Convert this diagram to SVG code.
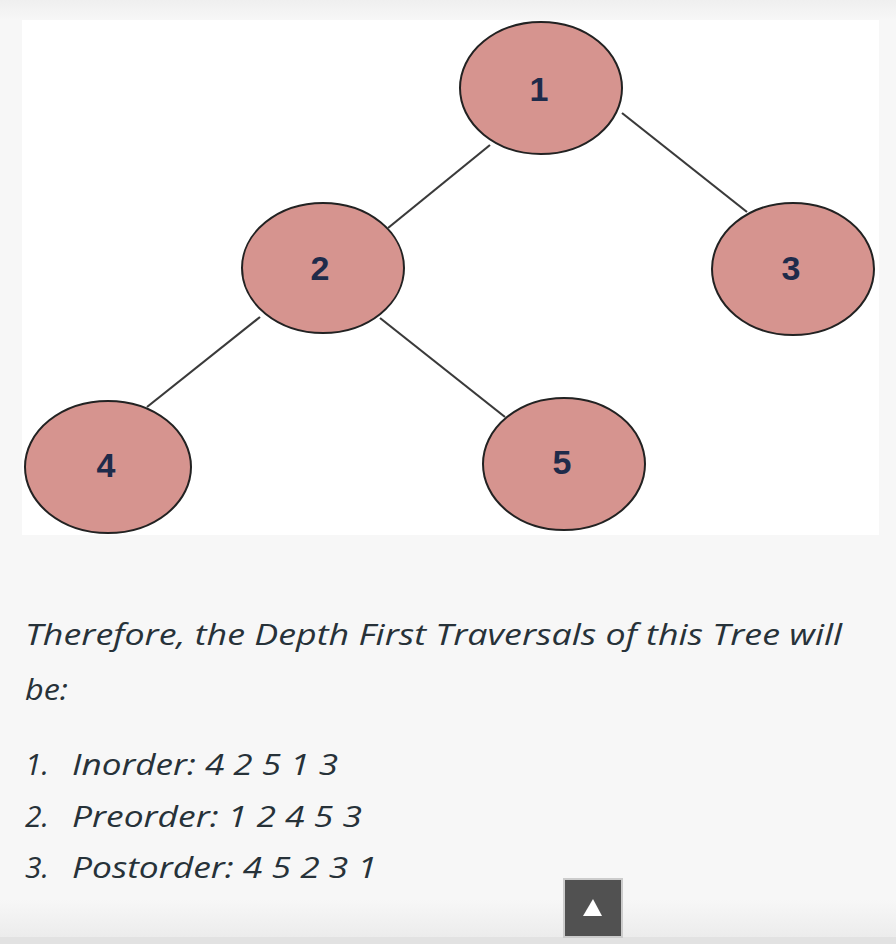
<svg xmlns="http://www.w3.org/2000/svg" width="896" height="944" viewBox="0 0 896 944">
  <defs>
    <linearGradient id="topfade" x1="0" y1="0" x2="0" y2="1">
      <stop offset="0" stop-color="#efefef"/>
      <stop offset="1" stop-color="#f7f7f7"/>
    </linearGradient>
    <linearGradient id="botfade" x1="0" y1="0" x2="0" y2="1">
      <stop offset="0" stop-color="#f7f7f7"/>
      <stop offset="1" stop-color="#ececec"/>
    </linearGradient>
  </defs>
  <style>
    .node ellipse { fill: #d6948f; stroke: #222222; stroke-width: 2; }
    .node text { font-family: "Liberation Sans", Arial, sans-serif; font-weight: bold; font-size: 34px; fill: #1f2b4a; text-anchor: middle; dominant-baseline: central; }
    .edge { stroke: #3a3a3a; stroke-width: 2.2; fill: none; }
    .body { font-family: "Open Sans", Lato, sans-serif; font-style: italic; font-size: 30px; fill: #273239; }
  </style>
  <rect x="0" y="0" width="896" height="944" fill="#f7f7f7"/>
  <rect x="0" y="0" width="896" height="20" fill="url(#topfade)"/>
  <rect x="0" y="900" width="896" height="37" fill="url(#botfade)"/>
  <rect x="0" y="937" width="896" height="7" fill="#e2e2e2"/>
  <rect x="22" y="20" width="857" height="515" fill="#ffffff"/>

  <g id="connectors">
    <line class="edge" x1="490" y1="145" x2="388" y2="228"/>
    <line class="edge" x1="622" y1="113" x2="747" y2="212"/>
    <line class="edge" x1="260" y1="317" x2="147" y2="407"/>
    <line class="edge" x1="380" y1="318" x2="505" y2="417"/>
  </g>

  <g id="node1" class="node">
    <ellipse cx="541" cy="88" rx="81" ry="66"/>
    <text x="539" y="89">1</text>
  </g>
  <g id="node2" class="node">
    <ellipse cx="323" cy="268" rx="81" ry="65"/>
    <text x="320" y="268">2</text>
  </g>
  <g id="node3" class="node">
    <ellipse cx="793" cy="269" rx="81" ry="66"/>
    <text x="791" y="268">3</text>
  </g>
  <g id="node4" class="node">
    <ellipse cx="108" cy="467" rx="83" ry="66"/>
    <text x="106" y="465">4</text>
  </g>
  <g id="node5" class="node">
    <ellipse cx="564" cy="464" rx="81" ry="66"/>
    <text x="562" y="462">5</text>
  </g>

  <text class="body" x="25" y="645" textLength="817" lengthAdjust="spacingAndGlyphs">Therefore, the Depth First Traversals of this Tree will</text>
  <text class="body" x="25" y="700" textLength="43" lengthAdjust="spacingAndGlyphs">be:</text>
  <text class="body" y="775"><tspan x="25">1.</tspan><tspan x="72" textLength="266" lengthAdjust="spacingAndGlyphs">Inorder: 4 2 5 1 3</tspan></text>
  <text class="body" y="827"><tspan x="25">2.</tspan><tspan x="72" textLength="290" lengthAdjust="spacingAndGlyphs">Preorder: 1 2 4 5 3</tspan></text>
  <text class="body" y="878"><tspan x="25">3.</tspan><tspan x="72" textLength="305" lengthAdjust="spacingAndGlyphs">Postorder: 4 5 2 3 1</tspan></text>

  <g id="scroll-top">
    <rect x="564" y="879" width="58" height="58" fill="#515151" stroke="#cccccc" stroke-width="2"/>
    <polygon points="593,899 602,916 583,916" fill="#ffffff"/>
  </g>
</svg>
